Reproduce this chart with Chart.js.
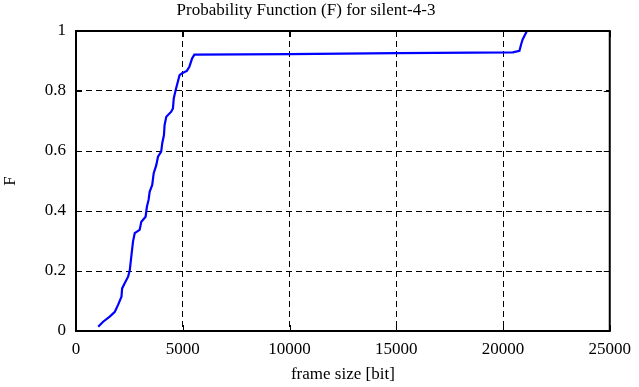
<!DOCTYPE html>
<html>
<head>
<meta charset="utf-8">
<script src="https://cdn.jsdelivr.net/npm/chart.js@4/dist/chart.umd.min.js"></script>
<style>
html,body{margin:0;padding:0;background:#fff;}
#wrap{width:639px;height:387px;position:relative;}
</style>
</head>
<body>
<div id="wrap"><canvas id="c" width="639" height="387"></canvas></div>
<script>
const frameSizes = [1040, 1270, 1580, 1820, 1970, 2130, 2160, 2280, 2440, 2520, 2590, 2670, 2750, 2980, 3060, 3260, 3320, 3400, 3450, 3570, 3640, 3760, 3840, 3990, 4040, 4120, 4150, 4230, 4460, 4540, 4580, 4690, 4770, 4850, 4970, 5190, 5310, 5440, 5545, 10000, 15000, 20460, 20770, 20850, 20920, 21120];
const cdfValues  = [0.014, 0.031, 0.048, 0.064, 0.087, 0.114, 0.142, 0.159, 0.181, 0.203, 0.248, 0.298, 0.326, 0.337, 0.364, 0.381, 0.414, 0.437, 0.464, 0.487, 0.526, 0.553, 0.581, 0.598, 0.626, 0.653, 0.687, 0.714, 0.731, 0.742, 0.776, 0.809, 0.831, 0.853, 0.859, 0.867, 0.881, 0.909, 0.921, 0.923, 0.926, 0.929, 0.934, 0.956, 0.972, 1.0];
const xTicks = [0, 5000, 10000, 15000, 20000, 25000];
const yTicks = [0, 0.2, 0.4, 0.6, 0.8, 1];
const titleText = 'Probability Function (F) for silent-4-3';
const xLabel = 'frame size [bit]';
const yLabel = 'F';

const FONT = "'Liberation Serif', 'Times New Roman', serif";

const boxPlugin = {
  id: 'boxPlugin',
  afterDatasetsDraw(chart) {
    const {ctx, chartArea: a, scales} = chart;
    ctx.save();
    ctx.strokeStyle = '#000';
    ctx.lineWidth = 1;
    const L = 6;
    ctx.beginPath();
    xTicks.forEach(v => {
      const px = Math.round(scales.x.getPixelForValue(v)) + 0.5;
      ctx.moveTo(px, a.bottom); ctx.lineTo(px, a.bottom - L);
      ctx.moveTo(px, a.top); ctx.lineTo(px, a.top + L);
    });
    yTicks.forEach(v => {
      const py = Math.round(scales.y.getPixelForValue(v)) + 0.5;
      ctx.moveTo(a.left, py); ctx.lineTo(a.left + L, py);
      ctx.moveTo(a.right, py); ctx.lineTo(a.right - L, py);
    });
    ctx.stroke();
    ctx.lineWidth = 2;
    ctx.strokeRect(a.left, a.top, a.right - a.left, a.bottom - a.top);
    ctx.restore();
  }
};

new Chart(document.getElementById('c'), {
  type: 'scatter',
  data: {
    datasets: [{
      data: frameSizes.map((x, i) => ({x: x, y: cdfValues[i]})),
      showLine: true,
      borderColor: '#0000ff',
      backgroundColor: '#0000ff',
      borderWidth: 2.2,
      pointRadius: 0,
      tension: 0,
      clip: false
    }]
  },
  options: {
    responsive: false,
    animation: false,
    devicePixelRatio: 1,
    layout: {padding: {left: 0, right: 27, top: 0, bottom: 0}},
    plugins: {
      legend: {display: false},
      tooltip: {enabled: false},
      title: {
        display: true,
        text: titleText,
        color: '#000',
        font: {family: FONT, size: 17, weight: 'normal'},
        padding: {top: 0, bottom: 10.6}
      }
    },
    scales: {
      x: {
        type: 'linear',
        min: 0, max: 25000,
        afterBuildTicks: s => { s.ticks = xTicks.map(v => ({value: v})); },
        afterFit: s => { s.height = 56; },
        ticks: {
          color: '#000',
          font: {family: FONT, size: 17},
          padding: 8,
          maxRotation: 0,
          autoSkip: false,
          callback: v => String(v)
        },
        grid: {color: '#000', lineWidth: 1, drawTicks: false},
        border: {display: false, dash: [6,4]},
        title: {display: true, text: xLabel, color: '#000', font: {family: FONT, size: 17}, padding: {top: 0, bottom: 2}}
      },
      y: {
        type: 'linear',
        min: 0, max: 1,
        afterBuildTicks: s => { s.ticks = yTicks.map(v => ({value: v})); },
        afterFit: s => { s.width = 76; },
        ticks: {
          color: '#000',
          font: {family: FONT, size: 17},
          padding: 10,
          autoSkip: false,
          callback: v => String(v)
        },
        grid: {color: '#000', lineWidth: 1, drawTicks: false},
        border: {display: false, dash: [6,4]},
        title: {display: true, text: yLabel, color: '#000', font: {family: FONT, size: 17}, padding: {top: 0, bottom: 0}}
      }
    }
  },
  plugins: [boxPlugin]
});
</script>
</body>
</html>
